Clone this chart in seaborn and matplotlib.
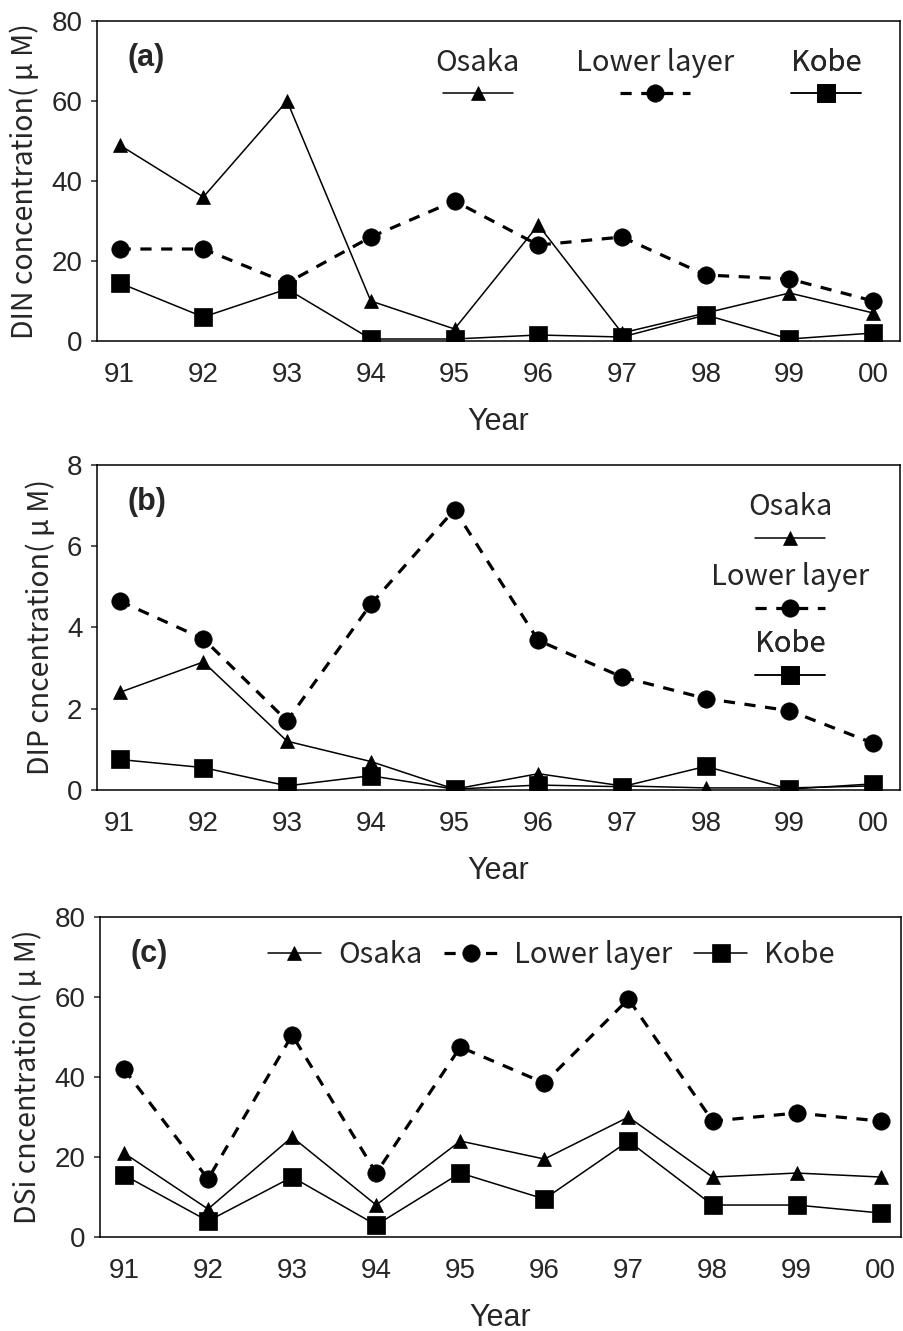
import numpy as np
import pandas as pd
import matplotlib
matplotlib.use('Agg')
import matplotlib.pyplot as plt
import seaborn as sns

years = ['91', '92', '93', '94', '95', '96', '97', '98', '99', '00']
series_names = ['Osaka', 'Lower layer', 'Kobe']

# (a) DIN
din_osaka = [49, 36, 60, 10, 3, 29, 2, 7, 12, 7]
din_lower = [23, 23, 14.5, 26, 35, 24, 26, 16.5, 15.5, 10]
din_kobe = [14.5, 6, 13, 0.5, 0.5, 1.5, 1, 6.5, 0.5, 2]

# (b) DIP
dip_osaka = [2.4, 3.15, 1.2, 0.7, 0.02, 0.4, 0.1, 0.05, 0.05, 0.1]
dip_lower = [4.65, 3.72, 1.7, 4.57, 6.9, 3.68, 2.78, 2.25, 1.95, 1.15]
dip_kobe = [0.75, 0.55, 0.1, 0.35, 0.02, 0.12, 0.08, 0.58, 0.02, 0.15]

# (c) DSi
dsi_osaka = [21, 7, 25, 8, 24, 19.5, 30, 15, 16, 15]
dsi_lower = [42, 14.5, 50.5, 16, 47.5, 38.5, 59.5, 29, 31, 29]
dsi_kobe = [15.5, 4, 15, 3, 16, 9.5, 24, 8, 8, 6]

sns.set_style('white')
plt.rcParams['font.family'] = ['Liberation Sans', 'DejaVu Sans']
cjk = ['Noto Sans CJK JP', 'DejaVu Sans']

fig = plt.figure(figsize=(9.04, 13.31), dpi=100)
ax_a = fig.add_axes([0.1073, 0.7438, 0.8883, 0.2404])
ax_b = fig.add_axes([0.1073, 0.4065, 0.8883, 0.2442])
ax_c = fig.add_axes([0.1106, 0.0706, 0.8860, 0.2404])

styles = {
    'Osaka': dict(marker='^', markersize=10, linewidth=1.1, linestyle='-'),
    'Lower layer': dict(marker='o', markersize=12.5, linewidth=2.3, linestyle=(0, (3.5, 3))),
    'Kobe': dict(marker='s', markersize=13.5, linewidth=1.1, linestyle='-'),
}


def draw_panel(ax, data, ylim, yticks, ylabel, tag, xlim):
    handles = []
    for name, vals in zip(series_names, data):
        df = pd.DataFrame({'Year': years, 'value': vals})
        sns.lineplot(data=df, x='Year', y='value', ax=ax, color='black',
                     markeredgecolor='black', markeredgewidth=0.5,
                     errorbar=None, sort=False, **styles[name])
        handles.append(ax.lines[-1])
    ax.set_xlim(*xlim)
    ax.set_ylim(*ylim)
    ax.set_yticks(yticks)
    ax.set_yticklabels([str(t) for t in yticks])
    ax.tick_params(axis='y', direction='out', length=4.5, width=1.1, pad=6, labelsize=20, left=True)
    ax.tick_params(axis='x', length=0, pad=15, labelsize=20)
    for sp in ax.spines.values():
        sp.set_linewidth(1.1)
        sp.set_color('black')
    ax.set_xlabel('Year', fontsize=22, labelpad=14)
    ax.set_ylabel(ylabel, fontsize=20.5, family=cjk, labelpad=8)
    ax.text(0.038, 0.885, tag, transform=ax.transAxes, fontsize=22,
            fontweight='bold', va='center', ha='left')
    return handles


h_a = draw_panel(ax_a, [din_osaka, din_lower, din_kobe], (0, 80), [0, 20, 40, 60, 80],
                 'DIN concentration( μ M)', '(a)', (-0.27, 9.32))
h_b = draw_panel(ax_b, [dip_osaka, dip_lower, dip_kobe], (0, 8), [0, 2, 4, 6, 8],
                 'DIP cncentration( μ M)', '(b)', (-0.27, 9.32))
h_c = draw_panel(ax_c, [dsi_osaka, dsi_lower, dsi_kobe], (0, 80), [0, 20, 40, 60, 80],
                 'DSi cncentration( μ M)', '(c)', (-0.285, 9.24))

# legends with label above handle for (a) and (b)
leg_font = dict(family=cjk, size=21)


def titled_legend(ax, handle, name, anchor):
    leg = ax.legend([handle], [''], title=name, loc='center', bbox_to_anchor=anchor,
                    frameon=False, handlelength=4.2, handletextpad=0, borderpad=0,
                    borderaxespad=0, title_fontproperties=leg_font,
                    prop=dict(family=cjk, size=12), numpoints=1)
    ax.add_artist(leg)


for h, name, x in zip(h_a, series_names, [0.474, 0.695, 0.908]):
    titled_legend(ax_a, h, name, (x, 0.83))

for h, name, y in zip(h_b, series_names, [0.831, 0.615, 0.41]):
    titled_legend(ax_b, h, name, (0.863, y))

ax_c.legend(h_c, series_names, loc='center left', bbox_to_anchor=(0.21, 0.88),
            ncol=3, frameon=False, handlelength=1.8, handletextpad=0.6,
            columnspacing=0.75, borderpad=0, borderaxespad=0, prop=leg_font,
            numpoints=1)

fig.savefig('out.png', dpi=100)
